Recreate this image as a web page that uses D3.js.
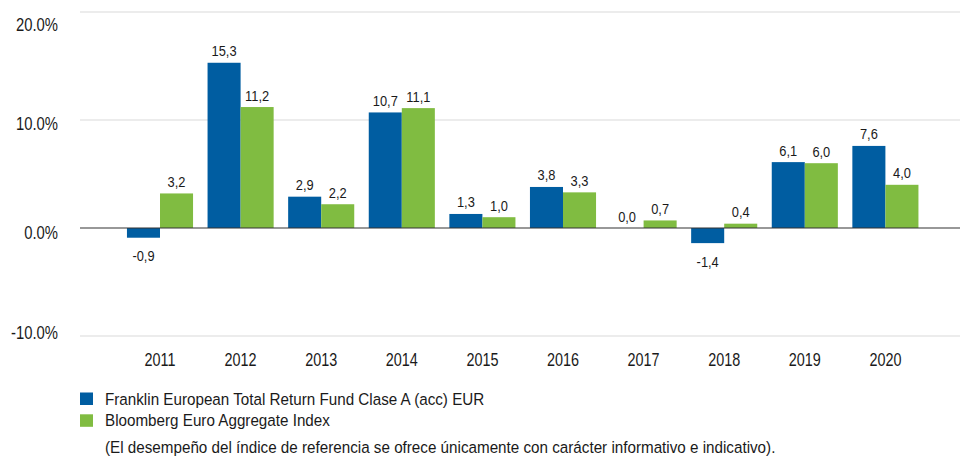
<!DOCTYPE html>
<html><head><meta charset="utf-8">
<script src="https://cdn.jsdelivr.net/npm/d3@7/dist/d3.min.js"></script>
<style>
html,body{margin:0;padding:0;background:#fff;}
svg text{font-family:"Liberation Sans",Arial,sans-serif;fill:#1a1a1a;}
</style></head>
<body><svg id="c" width="960" height="459"></svg>
<script>
const years = ["2011","2012","2013","2014","2015","2016","2017","2018","2019","2020"];
const fundValues = [-0.9, 15.3, 2.9, 10.7, 1.3, 3.8, 0.0, -1.4, 6.1, 7.6];
const indexValues = [3.2, 11.2, 2.2, 11.1, 1.0, 3.3, 0.7, 0.4, 6.0, 4.0];
const yTicks = [-10, 0, 10, 20];
const seriesNames = ["Franklin European Total Return Fund Clase A (acc) EUR", "Bloomberg Euro Aggregate Index"];
const seriesColors = ["#005DA1", "#80BC41"];
const note = "(El desempeño del índice de referencia se ofrece únicamente con carácter informativo e indicativo).";

const fmt1 = v => v.toFixed(1);
const svg = d3.select("#c");
const y = d3.scaleLinear().domain([-10, 20]).range([336, 12]);
const x = d3.scaleBand().domain(years).range([119.7, 925.7]).paddingInner(0.18).paddingOuter(0.09);
const xs = d3.scaleBand().domain([0,1]).range([0, x.bandwidth()]);

function ntext(sel, fx, fy, sx) {
  return sel.attr("transform", (d, i) => `translate(${fx(d, i)},${fy(d, i)}) scale(${sx},1)`);
}

// gridlines
svg.append("g").selectAll("line").data(yTicks.filter(d => d !== 0)).join("line")
  .attr("x1", 80).attr("x2", 960)
  .attr("y1", d => y(d)).attr("y2", d => y(d))
  .attr("stroke", "#d9d9d9").attr("stroke-width", 1.2);

// y labels
const nudge = {"20": 12.5, "10": 3.5, "0": 4.5, "-10": -4};
ntext(svg.append("g").selectAll("text").data(yTicks).join("text"),
  () => 58, d => y(d) + nudge[d] + 6.8, 0.78)
  .attr("text-anchor", "end").attr("font-size", 19)
  .text(d => fmt1(d) + "%");

// bars
const data = years.map((yr, i) => ({yr, vals: [fundValues[i], indexValues[i]]}));
const groups = svg.append("g").selectAll("g").data(data).join("g")
  .attr("transform", d => `translate(${x(d.yr)},0)`);
groups.selectAll("rect").data(d => d.vals.map((v, k) => ({v, k}))).join("rect")
  .attr("x", d => xs(d.k)).attr("width", xs.bandwidth())
  .attr("y", d => y(Math.max(0, d.v)))
  .attr("height", d => Math.abs(y(d.v) - y(0)))
  .attr("fill", d => seriesColors[d.k]);
ntext(groups.selectAll("text").data(d => d.vals.map((v, k) => ({v, k}))).join("text"),
  d => xs(d.k) + xs.bandwidth() / 2,
  d => d.v >= 0 ? y(d.v) - 6.5 : y(d.v) + 23.5, 0.83)
  .attr("text-anchor", "middle").attr("font-size", 15.5)
  .text(d => fmt1(d.v).replace(".", ","));

// zero line
svg.append("line").attr("x1", 80).attr("x2", 960)
  .attr("y1", y(0)).attr("y2", y(0))
  .attr("stroke", "#333").attr("stroke-width", 1.2);

// x axis labels
ntext(svg.append("g").selectAll("text").data(years).join("text"),
  d => x(d) + x.bandwidth() / 2, () => 365.5, 0.8)
  .attr("text-anchor", "middle").attr("font-size", 18)
  .text(d => d);

// legend
const leg = svg.append("g");
seriesNames.forEach((n, i) => {
  leg.append("rect").attr("x", 80).attr("y", 392.5 + i * 21.8).attr("width", 13).attr("height", 12.5).attr("fill", seriesColors[i]);
  leg.append("text").attr("transform", `translate(105,${404.5 + i * 21.5}) scale(0.895,1)`).attr("font-size", 17).text(n);
});
leg.append("text").attr("transform", `translate(105,453) scale(0.895,1)`).attr("font-size", 17).text(note);
</script></body></html>
